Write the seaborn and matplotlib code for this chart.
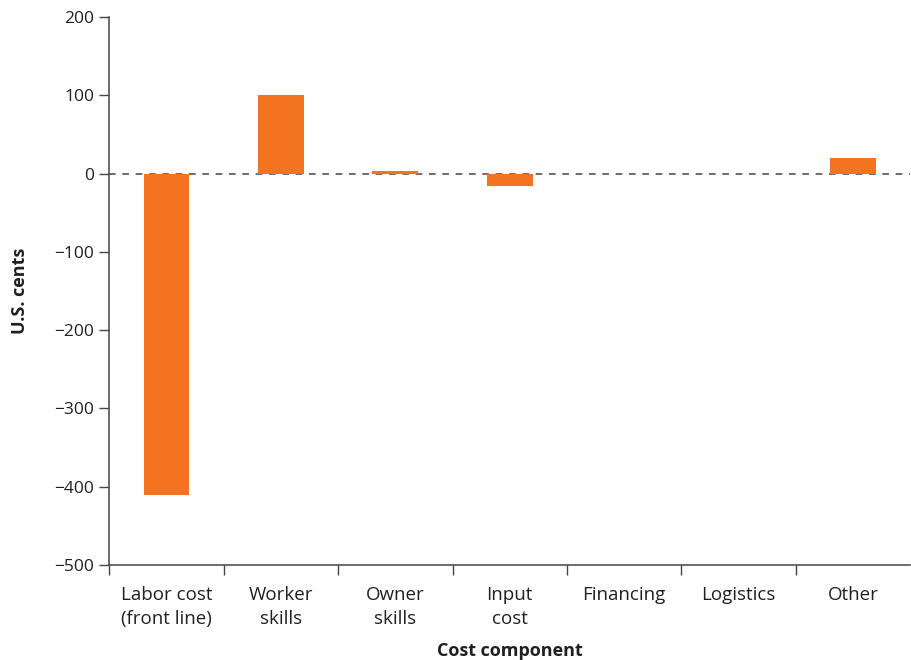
import numpy as np
import pandas as pd
import matplotlib
matplotlib.use("Agg")
import matplotlib.pyplot as plt
import seaborn as sns

# Datos
componentes = ["Labor cost\n(front line)", "Worker\nskills", "Owner\nskills", "Input\ncost",
               "Financing", "Logistics", "Other"]
centavos = [-410, 100, 4, -16, 0, 0, 20]
y_ticks = [200, 100, 0, -100, -200, -300, -400, -500]

df = pd.DataFrame({"componente": componentes, "centavos": centavos})

sns.set_style("white")
plt.rcParams["font.family"] = ["Open Sans", "DejaVu Sans"]
texto = "#231f20"

fig = plt.figure(figsize=(9.11, 6.6), dpi=100)
ax = fig.add_axes([0.12, 0.144, 0.879, 0.830])

sns.barplot(data=df, x="componente", y="centavos", color="#f37321", width=0.4,
            saturation=1, linewidth=0, ax=ax)

ax.axhline(0, color="#555555", lw=1.2, ls=(0, (4, 4)), zorder=0)

ax.set_ylim(-500, 200)
ax.set_xlim(-0.5, len(componentes) - 0.5)
ax.set_yticks(y_ticks)
ax.set_yticklabels([str(v).replace("-", "\u2212") for v in y_ticks])

# marcas del eje x entre categorías
ax.set_xticks(np.arange(len(componentes)))
ax.set_xticklabels(componentes, linespacing=1.45)
ax.set_xticks(np.arange(len(componentes)) - 0.5, minor=True)
ax.tick_params(axis="x", which="major", length=0, pad=15, labelsize=13.5, colors=texto)
ax.tick_params(axis="x", which="minor", bottom=True, length=7, width=1, color="#444444",
               direction="out")
ax.tick_params(axis="y", left=True, length=7, width=1, color="#444444", labelsize=12.5,
               colors=texto, direction="out", pad=4)

for s in ["top", "right"]:
    ax.spines[s].set_visible(False)
for s in ["left", "bottom"]:
    ax.spines[s].set_color("#444444")
    ax.spines[s].set_linewidth(1.1)

ax.set_xlabel("Cost component", fontsize=13, fontweight="bold", color=texto, labelpad=10)
ax.set_ylabel("U.S. cents", fontsize=13, fontweight="bold", color=texto, labelpad=18)

fig.savefig("out.png", dpi=100)
